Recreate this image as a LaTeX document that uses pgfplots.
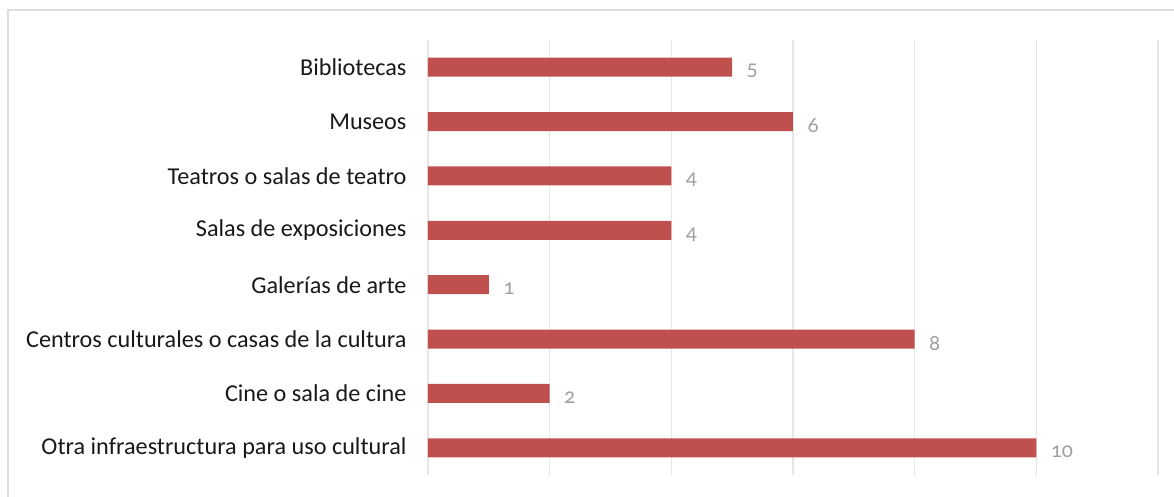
\documentclass[border=0pt]{standalone}
\usepackage{pgfplots}
\pgfplotsset{compat=1.18}
\usepackage{fontspec}
\setmainfont{Carlito}
\newfontfamily\numfont[Numbers=OldStyle]{Carlito}
\definecolor{barred}{RGB}{192,80,77}
\definecolor{gridgray}{RGB}{230,230,230}
\definecolor{framegray}{RGB}{222,222,222}
\definecolor{valgray}{RGB}{160,160,160}
\definecolor{labelblack}{RGB}{25,25,25}
\begin{document}
\begin{tikzpicture}[x=1bp,y=1bp]
\begin{axis}[
  scale only axis,
  width=730bp, height=435bp,
  xmin=0, xmax=12,
  ymin=-0.5, ymax=7.5,
  xbar, bar width=19bp,
  axis line style={draw=none},
  xtick={0,2,...,12}, xticklabels={},
  xmajorgrids, grid style={gridgray, line width=1.5bp},
  major tick length=0pt,
  ytick={0,...,7},
  yticklabels={Otra infraestructura para uso cultural,Cine o sala de cine,Centros culturales o casas de la cultura,Galerías de arte,Salas de exposiciones,Teatros o salas de teatro,Museos,Bibliotecas},
  yticklabel style={font=\fontsize{24.3}{28}\selectfont, text=labelblack, xshift=-18bp},
  nodes near coords={\numfont\pgfmathprintnumber[assume math mode=true]{\pgfplotspointmeta}},
  nodes near coords style={font=\fontsize{22}{26}\selectfont, text=valgray, anchor=west, xshift=11bp, yshift=-4bp},
  clip=false,
]
\addplot[fill=barred, draw=none] coordinates {(10,0) (2,1) (8,2) (1,3) (4,4) (4,5) (6,6) (5,7)};
\coordinate (O) at (rel axis cs:0,0);
\end{axis}
\path[use as bounding box] ([shift={(-428bp,-22bp)}]O) rectangle ([shift={(746bp,475bp)}]O);
\draw[framegray, line width=1.2bp] ([shift={(-420bp,-30bp)}]O) -- ([shift={(-420bp,465bp)}]O) -- ([shift={(760bp,465bp)}]O);
\end{tikzpicture}
\end{document}
